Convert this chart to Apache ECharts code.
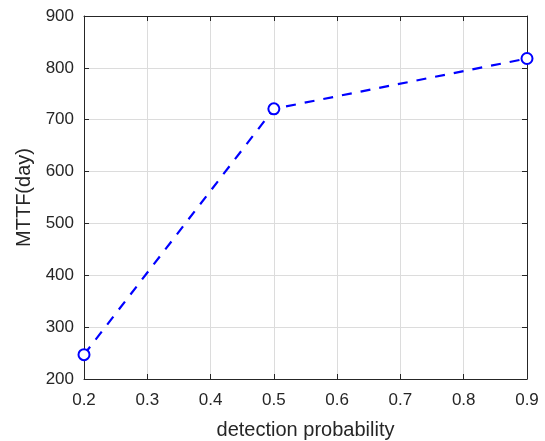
<!DOCTYPE html>
<html><head><meta charset="utf-8">
<script src="https://cdn.jsdelivr.net/npm/echarts@6/dist/echarts.min.js"></script>
<style>html,body{margin:0;padding:0;background:#fff}#c{width:545px;height:441px}</style>
</head><body><div id="c"></div>
<script>
const xValues = [0.2, 0.5, 0.9];
const mttf = [247, 721, 818];
const xTicks = [0.2, 0.3, 0.4, 0.5, 0.6, 0.7, 0.8, 0.9];
const yTicks = [200, 300, 400, 500, 600, 700, 800, 900];

const chart = echarts.init(document.getElementById('c'));
const FONT = 'Liberation Sans, Arial, sans-serif';
const axisCommon = {
  axisLine: {show: true, onZero: false, lineStyle: {color: '#262626', width: 1}},
  axisTick: {show: true, inside: true, length: 5, lineStyle: {color: '#262626'}},
  splitLine: {show: true, lineStyle: {color: '#dcdcdc', width: 1}},
  axisLabel: {color: '#262626', fontSize: 17, fontFamily: FONT},
  nameTextStyle: {color: '#262626', fontSize: 20, fontFamily: FONT}
};
chart.setOption({
  animation: false,
  grid: {left: 84, top: 16, right: 18, bottom: 62, containLabel: false, outerBoundsMode: 'none'},
  xAxis: [Object.assign({}, axisCommon, {
    type: 'value', min: xTicks[0], max: xTicks[xTicks.length-1], interval: 0.1,
    name: 'detection probability', nameLocation: 'middle', nameGap: 41,
    axisLabel: Object.assign({}, axisCommon.axisLabel, {margin: 13, formatter: v => v.toFixed(1)})
  }), Object.assign({}, axisCommon, {
    type: 'value', position: 'top', min: xTicks[0], max: xTicks[xTicks.length-1], interval: 0.1,
    axisLabel: {show: false}, splitLine: {show: false}
  })],
  yAxis: [Object.assign({}, axisCommon, {
    type: 'value', min: yTicks[0], max: yTicks[yTicks.length-1], interval: 100,
    name: 'MTTF(day)', nameLocation: 'middle', nameGap: 47, nameRotate: 90,
    axisLabel: Object.assign({}, axisCommon.axisLabel, {margin: 10})
  }), Object.assign({}, axisCommon, {
    type: 'value', position: 'right', min: yTicks[0], max: yTicks[yTicks.length-1], interval: 100,
    axisLabel: {show: false}, splitLine: {show: false}
  })],
  series: [{
    type: 'line',
    data: xValues.map((x, i) => [x, mttf[i]]),
    symbol: 'circle', symbolSize: 11,
    itemStyle: {color: '#fff', borderColor: '#0000ff', borderWidth: 2},
    lineStyle: {color: '#0000ff', width: 2.2, type: [10, 9]}
  }]
});
</script></body></html>
